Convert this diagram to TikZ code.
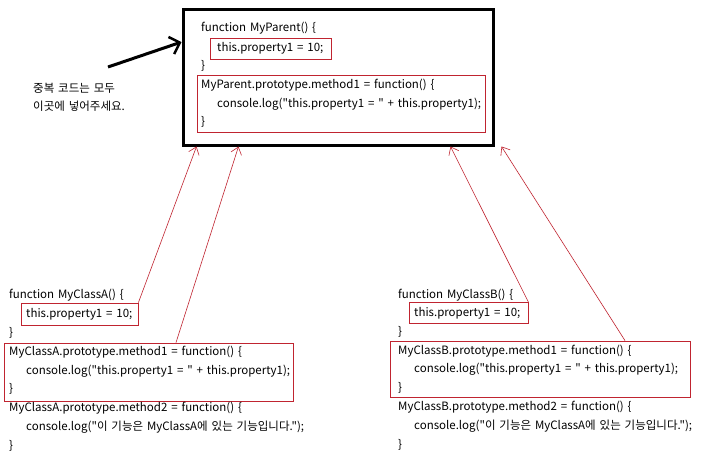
\documentclass[tikz,border=0pt]{standalone}
\usepackage{fontspec}
\setmainfont{Noto Sans CJK KR}[WordSpace=1.5, Ligatures=TeXOff]
\usetikzlibrary{arrows.meta,calc}
\definecolor{boxred}{RGB}{192,36,48}
\newcommand{\dq}{\symbol{34}}
\tikzset{
  code/.style={anchor=west, inner sep=0pt, text height=9pt, text depth=3pt, font=\fontsize{11.5}{14}\selectfont},
  redbox/.style={draw=boxred, line width=0.8pt, inner sep=0pt},
  redarrow/.style={draw=boxred, line width=0.6pt, -{Straight Barb[length=7pt,width=11pt]}},
  bigbox/.style={draw=black, line width=3pt, inner sep=0pt},
}
\begin{document}
\begin{tikzpicture}[x=1pt,y=-1pt]
\useasboundingbox[fill=white] (0,0) rectangle (720,472);

% parent
\node[bigbox, minimum width=310, minimum height=136] (parent) at (338,77) {};
\node[redbox, minimum width=121, minimum height=21] (pprop) at (271,49) {};
\node[redbox, minimum width=288, minimum height=57] (pmeth) at (341,104) {};
\node[code] (p1) at (201,28) {function MyParent() \{};
\node[code] (p2) at (217,48) {this.property1 = 10;};
\node[code] (p3) at (201,66) {\}};
\node[code] (p4) at (201,85) {MyParent.prototype.method1 = function() \{};
\node[code] (p5) at (217,104) {console.log(\dq this.property1 = \dq{} + this.property1);};
\node[code] (p6) at (201,122) {\}};

% note
\node[code] (n1) at (33,89) {중복 코드는 모두};
\node[code] (n2) at (33,107) {이곳에 넣어주세요.};
\coordinate (nstart) at (108,67);
\draw[line width=3pt, -{Straight Barb[length=9pt,width=18pt,line width=2.5pt]}] (nstart) -- (parent.west |- 0,42);

% class A
\node[redbox, minimum width=117, minimum height=22] (a1) at (79.5,314) {};
\node[redbox, minimum width=289, minimum height=58] (a2) at (148.5,372) {};
\node[code] (a1t) at (9,295) {function MyClassA() \{};
\node[code] (a2t) at (26,314) {this.property1 = 10;};
\node[code] (a3t) at (9,333) {\}};
\node[code] (a4t) at (9,352) {MyClassA.prototype.method1 = function() \{};
\node[code] (a5t) at (26,371) {console.log(\dq this.property1 = \dq{} + this.property1);};
\node[code] (a6t) at (9,389) {\}};
\node[code] (a7t) at (9,408) {MyClassA.prototype.method2 = function() \{};
\node[code] (a8t) at (26,427) {console.log(\dq 이 기능은 MyClassA에 있는 기능입니다.\dq);};
\node[code] (a9t) at (9,446) {\}};

% class B
\node[redbox, minimum width=119, minimum height=21] (b1) at (468.5,313) {};
\node[redbox, minimum width=300, minimum height=56] (b2) at (540,369) {};
\node[code] (b1t) at (398,295) {function MyClassB() \{};
\node[code] (b2t) at (414,313) {this.property1 = 10;};
\node[code] (b3t) at (398,332) {\}};
\node[code] (b4t) at (398,351) {MyClassB.prototype.method1 = function() \{};
\node[code] (b5t) at (414,369) {console.log(\dq this.property1 = \dq{} + this.property1);};
\node[code] (b6t) at (398,388) {\}};
\node[code] (b7t) at (398,407) {MyClassB.prototype.method2 = function() \{};
\node[code] (b8t) at (414,426) {console.log(\dq 이 기능은 MyClassA에 있는 기능입니다.\dq);};
\node[code] (b9t) at (398,445) {\}};

% connectors
\draw[redarrow] (a1.north east) -- ($(parent.south west)+(15,0)$);
\draw[redarrow] (a2.north west -| 176,0) -- ($(parent.south west)+(57,0)$);
\draw[redarrow] (b1.north east) -- ($(parent.south west)+(269,0)$);
\draw[redarrow] (b2.north west -| 625,0) -- ($(parent.south west)+(320,0)$);
\end{tikzpicture}
\end{document}
